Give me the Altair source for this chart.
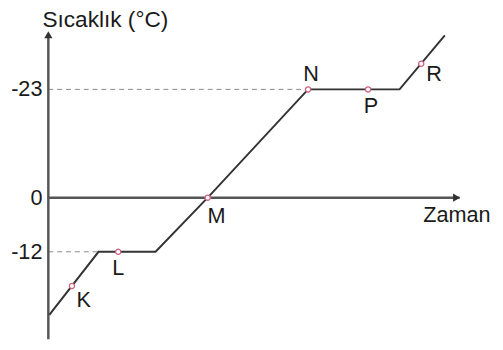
import altair as alt
import pandas as pd

# Heating curve (time in arbitrary units, temperature in chart units)
curve_t = [1, 51, 109, 162, 264, 357, 403]
curve_y = [-26, -12, -12, 0, 24, 24, 36]

# Marked points
pt_names = ["K", "L", "M", "N", "P", "R"]
pt_t = [24, 71, 162, 264, 325, 379]
pt_y = [-19.6, -12, 0, 24, 24, 29.7]
# label offsets (in data units)
lab_dt = [12, 0, 9, 3, 3, 13]
lab_dy = [-3.1, -3.6, -4.15, 3.4, -3.7, -2.4]

# Tick labels on the temperature axis
tick_vals = [24, 0, -12]
tick_labels = ["-23", "0", "-12"]

X_MIN, X_MAX = 0, 421
Y_MIN, Y_MAX = -31.4, 37.3
X_ARROW = 418

font = "Liberation Sans"
FS = 22
xs = alt.Scale(domain=[X_MIN, X_MAX], nice=False, zero=False)
ys = alt.Scale(domain=[Y_MIN, Y_MAX], nice=False, zero=False)
X = lambda f: alt.X(f, type="quantitative", scale=xs, axis=None)
Y = lambda f: alt.Y(f, type="quantitative", scale=ys, axis=None)

curve = pd.DataFrame({"t": curve_t, "y": curve_y})
pts = pd.DataFrame({"name": pt_names, "t": pt_t, "y": pt_y,
                    "lt": [a + b for a, b in zip(pt_t, lab_dt)],
                    "ly": [a + b for a, b in zip(pt_y, lab_dy)]})
ticks = pd.DataFrame({"v": tick_vals, "label": tick_labels})

# dashed guides
guides = pd.DataFrame({"t1": [0, 0], "t2": [curve_t[1], pt_t[3]], "y": [-12, 24]})
guide_layer = alt.Chart(guides).mark_rule(color="#888", strokeDash=[5, 4], strokeWidth=1).encode(
    x=X("t1"), x2="t2", y=Y("y"))

axes = pd.DataFrame({"x1": [0, 0], "x2": [0, X_ARROW], "y1": [Y_MIN, 0], "y2": [Y_MAX - 1, 0]})
axis_layer = alt.Chart(axes).mark_rule(color="#555", strokeWidth=2.5).encode(
    x=X("x1"), x2="x2", y=Y("y1"), y2="y2")

arrow_up = alt.Chart(pd.DataFrame({"t": [0], "y": [Y_MAX - 1.2]})).mark_point(
    shape="triangle-up", filled=True, color="#333", size=70, opacity=1).encode(x=X("t"), y=Y("y"))
arrow_right = alt.Chart(pd.DataFrame({"t": [X_ARROW - 3], "y": [0]})).mark_point(
    shape="triangle-right", filled=True, color="#333", size=70, opacity=1).encode(x=X("t"), y=Y("y"))

line_layer = alt.Chart(curve).mark_line(color="#333", strokeWidth=2).encode(x=X("t"), y=Y("y"))

point_layer = alt.Chart(pts).mark_point(shape="circle", filled=True, fill="white", stroke="#d0607f",
                                        strokeWidth=1.3, size=28, opacity=1).encode(x=X("t"), y=Y("y"))
label_layer = alt.Chart(pts).mark_text(font=font, fontSize=FS, color="#1a1a1a", baseline="middle").encode(
    x=X("lt"), y=Y("ly"), text="name")

tick_layer = alt.Chart(ticks).mark_text(font=font, fontSize=FS, color="#1a1a1a", align="right",
                                        baseline="middle", dx=-6).encode(
    x=alt.value(0), y=Y("v"), text="label")

title_layer = alt.Chart(pd.DataFrame({"s": ["Sıcaklık (°C)"]})).mark_text(
    font=font, fontSize=23, color="#1a1a1a", align="left", baseline="alphabetic").encode(
    x=alt.value(-6), y=alt.value(-2), text="s")
zaman_layer = alt.Chart(pd.DataFrame({"s": ["Zaman"]})).mark_text(
    font=font, fontSize=FS, color="#1a1a1a", align="left", baseline="middle").encode(
    x=alt.value(381), y=alt.value(189), text="s")

chart = alt.layer(guide_layer, axis_layer, arrow_up, arrow_right, line_layer, point_layer,
                  label_layer, tick_layer, title_layer, zaman_layer).properties(
    width=421, height=315,
    autosize=alt.AutoSizeParams(type="none"),
    padding={"left": 41, "top": 19, "right": 33, "bottom": 0},
).configure_view(stroke=None)

chart.save("out.html", embed_options={"renderer": "svg", "actions": False})
